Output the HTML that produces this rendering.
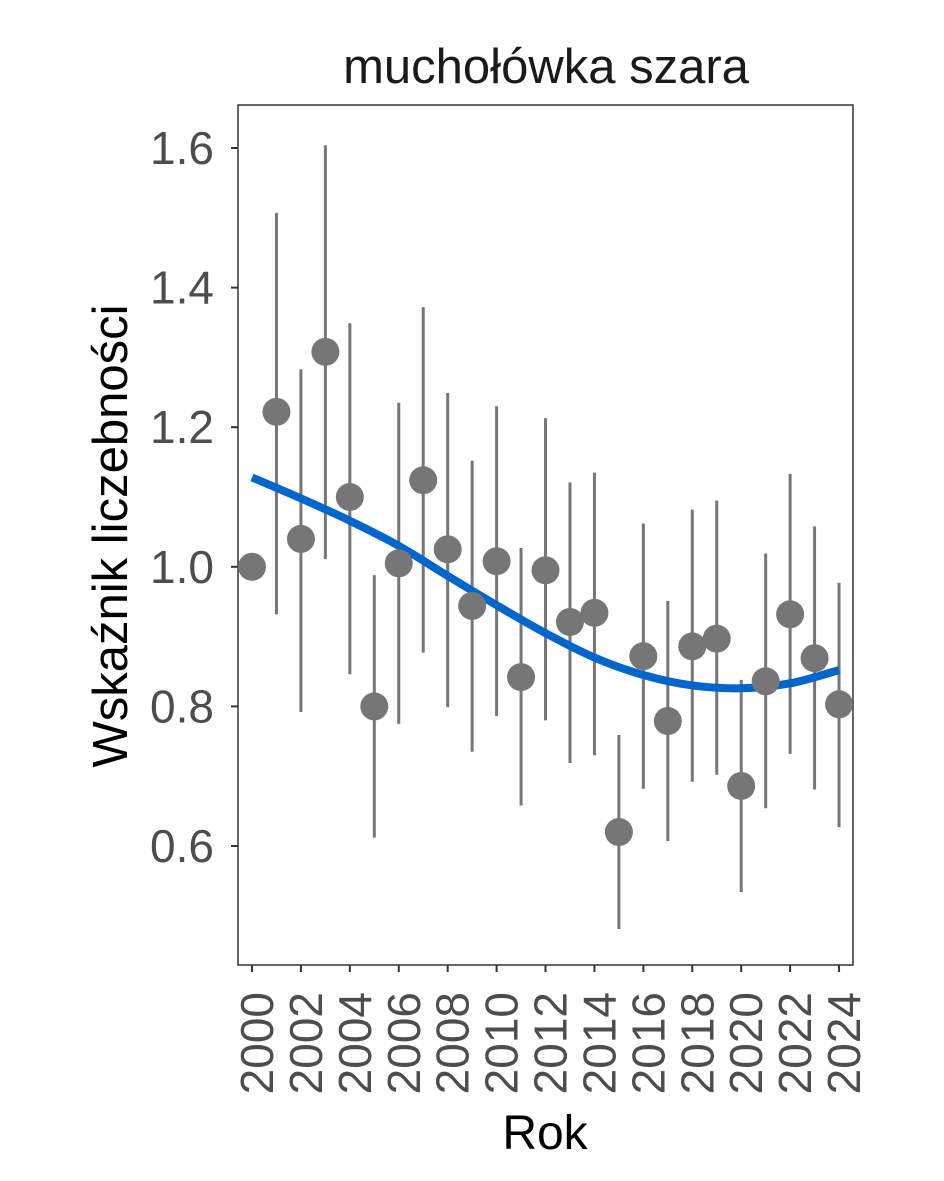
<!DOCTYPE html>
<html><head><meta charset="utf-8"><style>
html,body{margin:0;padding:0;background:#fff;}
svg{display:block;font-family:"Liberation Sans",Arial,sans-serif;}
</style></head><body>
<svg id="chart" width="944" height="1181" viewBox="0 0 944 1181">
<rect x="0" y="0" width="944" height="1181" fill="#fff"/>
<text x="546" y="83" font-size="49" text-anchor="middle" fill="#1a1a1a">muchołówka szara</text>
<g id="plot"></g>
<text x="0" y="0" transform="translate(127,536) rotate(-90)" font-size="49" text-anchor="middle" fill="#000">Wskaźnik liczebności</text>
<text x="545" y="1149" font-size="48" text-anchor="middle" fill="#000">Rok</text>
</svg>
<script>
const years=[2000,2001,2002,2003,2004,2005,2006,2007,2008,2009,2010,2011,2012,2013,2014,2015,2016,2017,2018,2019,2020,2021,2022,2023,2024];
const values=[1.00,1.222,1.04,1.308,1.10,0.80,1.005,1.124,1.025,0.944,1.008,0.842,0.995,0.921,0.934,0.62,0.872,0.779,0.886,0.897,0.686,0.836,0.932,0.869,0.803];
const upper=[1.00,1.507,1.283,1.604,1.349,0.988,1.235,1.372,1.249,1.152,1.23,1.027,1.213,1.121,1.135,0.759,1.062,0.951,1.082,1.095,0.838,1.019,1.133,1.058,0.977];
const lower=[1.00,0.932,0.792,1.011,0.846,0.612,0.775,0.877,0.799,0.735,0.786,0.658,0.78,0.719,0.730,0.481,0.682,0.607,0.692,0.702,0.534,0.654,0.732,0.681,0.627];
const trendYears=[2000,2002,2004,2006,2008,2010,2012,2014,2016,2018,2020,2022,2024];
const trend=[1.128,1.098,1.066,1.030,0.987,0.945,0.905,0.870,0.845,0.830,0.826,0.833,0.852];
const yTicks=[0.6,0.8,1.0,1.2,1.4,1.6];
const xTicks=[2000,2002,2004,2006,2008,2010,2012,2014,2016,2018,2020,2022,2024];

const NS="http://www.w3.org/2000/svg";
const g=document.getElementById('plot');
const X=v=>252+(v-2000)*24.46;
const Y=v=>566.8-(v-1.0)*698;
function mk(t,a){const e=document.createElementNS(NS,t);for(const k in a)e.setAttribute(k,a[k]);g.appendChild(e);return e;}

const frame=mk('rect',{x:238,y:105,width:615,height:860,fill:'none',stroke:'#333',"stroke-width":1.5});



yTicks.forEach(t=>{
  const l=mk('line',{x1:231,x2:238,y1:Y(t),y2:Y(t),stroke:'#333',"stroke-width":2});
  
  
  const tx=mk('text',{x:214,y:Y(t)+16,"font-size":46,"text-anchor":"end",fill:'#4d4d4d'});
  tx.textContent=t.toFixed(1);
  
  
});
xTicks.forEach(t=>{
  const l=mk('line',{x1:X(t),x2:X(t),y1:965,y2:972,stroke:'#333',"stroke-width":2});
  
  
  const tx=mk('text',{x:0,y:0,transform:`translate(${X(t)+21},${992}) rotate(-90)`,"font-size":46,"text-anchor":"end",fill:'#4d4d4d'});
  tx.textContent=t;
  
  
});
years.forEach((yr,i)=>{
  const l=mk('line',{x1:X(yr),x2:X(yr),y1:Y(upper[i]),y2:Y(lower[i]),stroke:'#767676',"stroke-width":3});
  
  
});
// smooth curve (Catmull-Rom) through trend points
const pts=trendYears.map((yr,i)=>[X(yr),Y(trend[i])]);
let d='M'+pts[0][0]+','+pts[0][1];
for(let i=0;i<pts.length-1;i++){
  const p0=pts[Math.max(i-1,0)],p1=pts[i],p2=pts[i+1],p3=pts[Math.min(i+2,pts.length-1)];
  const c1=[p1[0]+(p2[0]-p0[0])/6,p1[1]+(p2[1]-p0[1])/6];
  const c2=[p2[0]-(p3[0]-p1[0])/6,p2[1]-(p3[1]-p1[1])/6];
  d+='C'+c1[0]+','+c1[1]+' '+c2[0]+','+c2[1]+' '+p2[0]+','+p2[1];
}
const p=mk('path',{d:d,fill:'none',stroke:'#0066cc',"stroke-width":8,"stroke-linejoin":"round"});


years.forEach((yr,i)=>{
  const c=mk('circle',{cx:X(yr),cy:Y(values[i]),r:14,fill:'#767676'});
  
  
});
</script>
</body></html>
